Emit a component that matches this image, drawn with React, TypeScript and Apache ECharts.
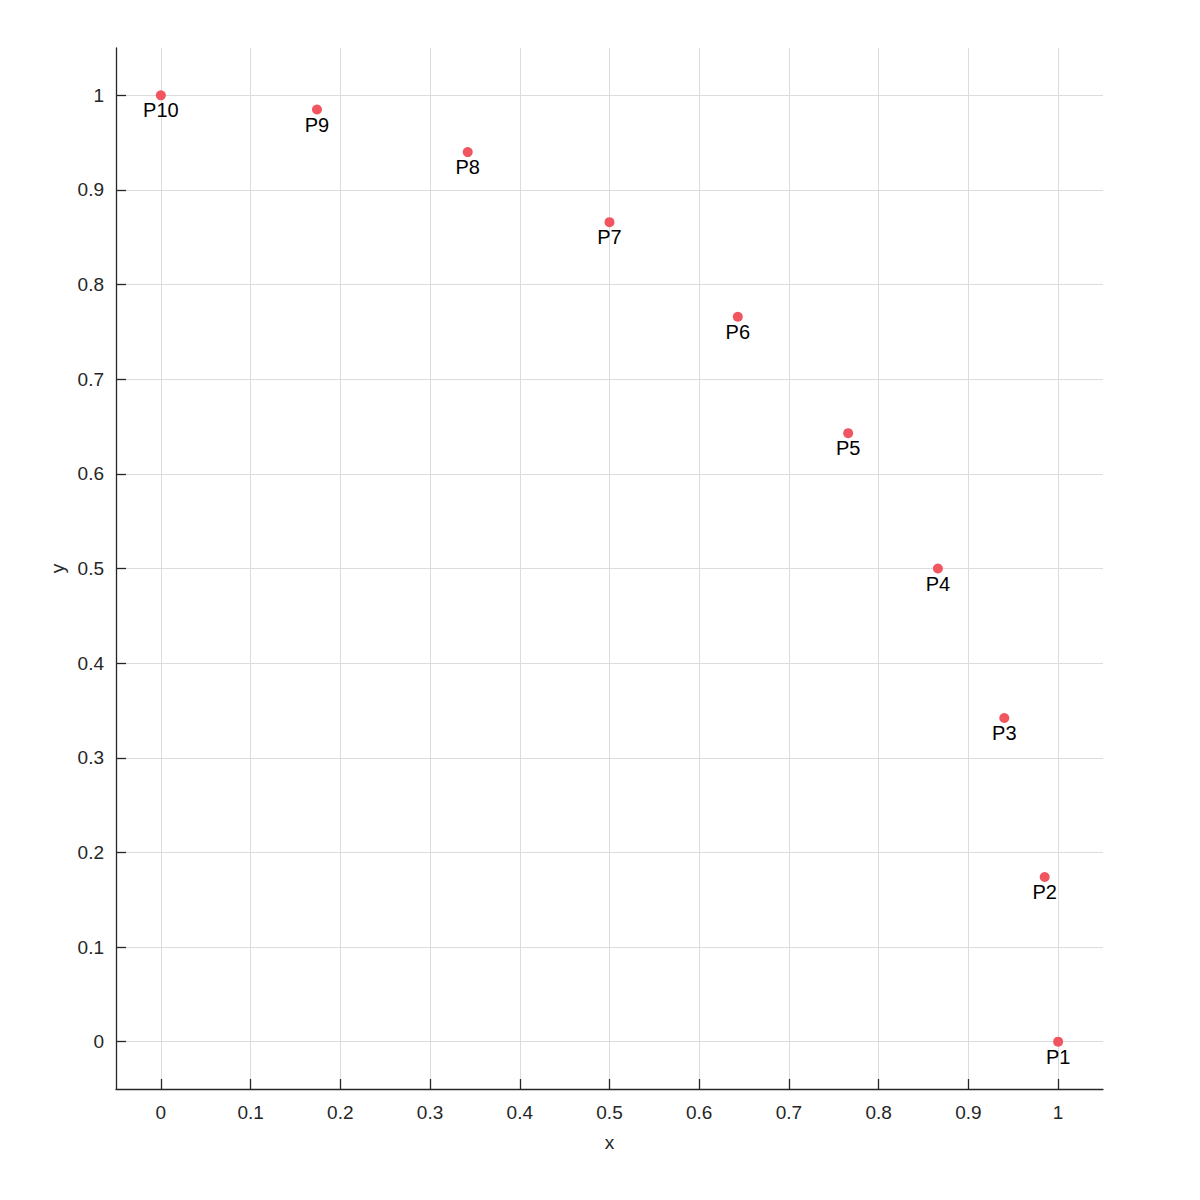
import React, { useEffect, useRef } from "react";
import * as echarts from "echarts";

const pointNames = ["P1", "P2", "P3", "P4", "P5", "P6", "P7", "P8", "P9", "P10"];
const xValues = [1.0, 0.985, 0.94, 0.866, 0.766, 0.643, 0.5, 0.342, 0.174, 0.0];
const yValues = [0.0, 0.174, 0.342, 0.5, 0.643, 0.766, 0.866, 0.94, 0.985, 1.0];
const gridTicks = [0, 0.1, 0.2, 0.3, 0.4, 0.5, 0.6, 0.7, 0.8, 0.9, 1.0];

export default function App() {
  const ref = useRef<HTMLDivElement>(null);
  useEffect(() => {
    if (!ref.current) return;
    const chart = echarts.init(ref.current, undefined, { renderer: "svg" });
    const axisCommon = {
      type: "value" as const,
      min: -0.05,
      max: 1.05,
      splitNumber: 11,
      z: 10,
      nameLocation: "middle" as const,
      nameTextStyle: { color: "#262626", fontSize: 19, fontFamily: "Liberation Sans" },
      axisLine: { show: true, onZero: false, lineStyle: { color: "#262626", width: 1.3 } },
      axisTick: { show: true, inside: true, length: 10, lineStyle: { color: "#262626", width: 1.3 } },
      axisLabel: {
        color: "#262626",
        fontSize: 19,
        fontFamily: "Liberation Sans",
        showMinLabel: false,
        showMaxLabel: false,
        formatter: (v: number) => String(Math.round(v * 10) / 10),
      },
      splitLine: { show: false },
    };
    const gridLineStyle = { color: "#dcdcdc", width: 1, type: "solid" as const };
    chart.setOption({
      animation: false,
      backgroundColor: "#ffffff",
      grid: { left: 116, right: 97, top: 48, bottom: 111, containLabel: false },
      xAxis: { ...axisCommon, name: "x", nameGap: 44, axisLabel: { ...axisCommon.axisLabel, margin: 14 } },
      yAxis: { ...axisCommon, name: "y", nameGap: 49, nameRotate: 90, axisLabel: { ...axisCommon.axisLabel, margin: 12 } },
      series: [
        {
          type: "scatter",
          data: xValues.map((x, i) => ({ value: [x, yValues[i]], name: pointNames[i] })),
          symbolSize: 10,
          itemStyle: { color: "#f05560", opacity: 1 },
          label: {
            show: true,
            position: "bottom",
            distance: 0,
            formatter: (p: any) => p.name,
            color: "#000000",
            fontSize: 20,
            fontFamily: "Liberation Sans",
          },
          markLine: {
            silent: true,
            symbol: "none",
            label: { show: false },
            lineStyle: gridLineStyle,
            data: [
              ...gridTicks.map((t) => ({ xAxis: t })),
              ...gridTicks.map((t) => ({ yAxis: t })),
            ],
          },
          z: 5,
        },
      ],
    });
    return () => chart.dispose();
  }, []);
  return (
    <div
      ref={ref}
      style={{ position: "fixed", left: 0, top: 0, width: 1200, height: 1200, background: "#fff" }}
    />
  );
}
